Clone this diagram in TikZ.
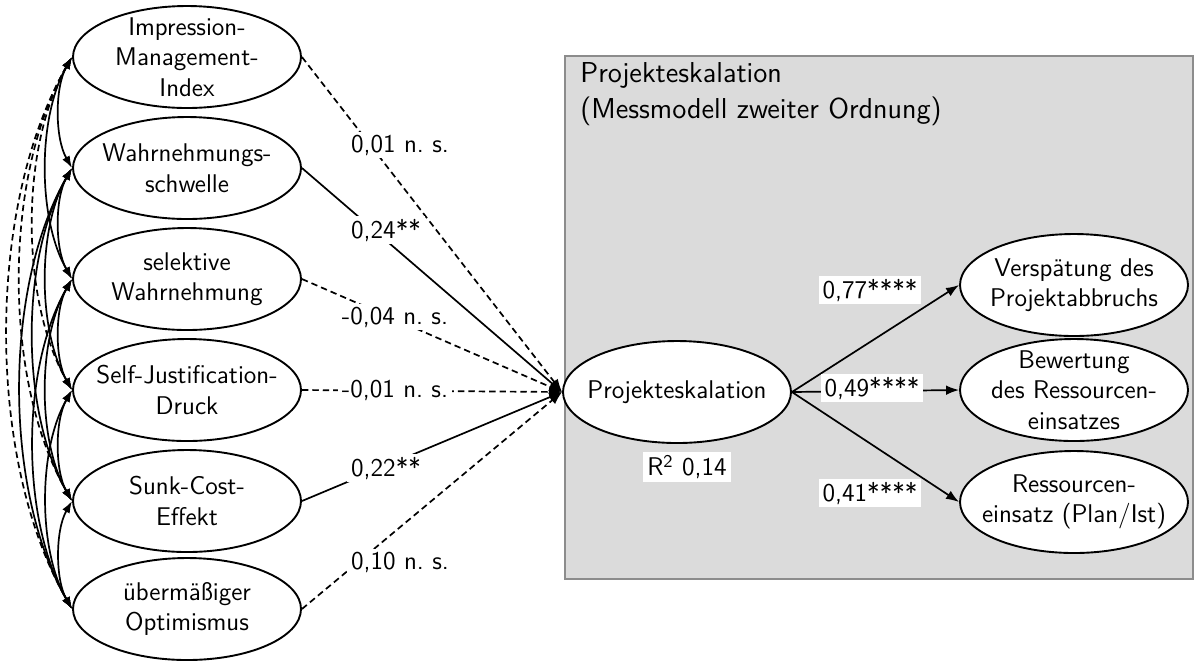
\documentclass[tikz,border=0pt]{standalone}
\usetikzlibrary{arrows.meta,shapes.geometric}
\begin{document}
\begin{tikzpicture}[x=0.5pt,y=-0.5pt,
  every node/.style={font=\sffamily\fontsize{12.8}{15.25}\selectfont},
  lat/.style={ellipse, draw, line width=0.95pt, fill=white, minimum width=114pt, minimum height=51pt, inner sep=-7pt, align=center},
  corr/.style={line width=0.85pt, {Latex[length=6pt,width=4.2pt]}-{Latex[length=6pt,width=4.2pt]}},
  ns/.style={dash pattern=on 3.2pt off 2pt},
  pth/.style={line width=0.85pt, -{Latex[length=6.5pt,width=4.8pt]}},
  lbl/.style={fill=white, inner xsep=2pt, inner ysep=1.5pt}
]
\useasboundingbox (0,0) rectangle (1194,661);
\node[draw=black!45, fill=black!14, line width=0.8pt, minimum width=314pt, minimum height=261.5pt, anchor=north west, inner sep=0] (box) at (564,55) {};
\node[anchor=north west, align=left, inner sep=0, font=\sffamily\fontsize{14.4}{18}\selectfont] (title) at (580,62) {Projekteskalation\\(Messmodell zweiter Ordnung)};

\node[lat] (n1) at (187,57) {Impression-\\Management-\\Index};
\node[lat] (n2) at (187,168) {Wahrnehmungs-\\schwelle};
\node[lat] (n3) at (187,279) {selektive\\Wahrnehmung};
\node[lat] (n4) at (187,390) {Self-Justification-\\Druck};
\node[lat] (n5) at (187,501) {Sunk-Cost-\\Effekt};
\node[lat] (n6) at (187,609) {übermäßiger\\Optimismus};

\node[lat] (c) at (677,392) {Projekteskalation};
\node[lat] (r1) at (1074,285) {Verspätung des\\Projektabbruchs};
\node[lat] (r2) at (1074,390) {Bewertung\\des Ressourcen-\\einsatzes};
\node[lat] (r3) at (1074,502) {Ressourcen-\\einsatz (Plan/Ist)};

\foreach \i/\j/\s in {1/2/solid,1/3/solid,1/4/ns,1/5/ns,1/6/ns,
  2/3/solid,2/4/solid,2/5/solid,2/6/solid,
  3/4/solid,3/5/solid,3/6/solid,
  4/5/solid,4/6/solid,5/6/solid}
  \draw[corr,\s] (n\i.west) to[out=-120,in=120,looseness=0.8] (n\j.west);

\draw[pth,ns] (n1.east) -- (c.west);
\draw[pth] (n2.east) -- (c.west);
\draw[pth,ns] (n3.east) -- (c.west);
\draw[pth,ns] (n4.east) -- (c.west);
\draw[pth] (n5.east) -- (c.west);
\draw[pth,ns] (n6.east) -- (c.west);

\node[lbl] (l1) at (400,145) {0,01 n.\ s.};
\node[lbl] (l2) at (386,230) {0,24**};
\node[lbl] (l3) at (395,317) {-0,04 n.\ s.};
\node[lbl] (l4) at (395,390) {-0,01 n.\ s.};
\node[lbl] (l5) at (386,468) {0,22**};
\node[lbl] (l6) at (400,562) {0,10 n.\ s.};

\draw[pth] (c.east) -- (r1.west);
\draw[pth] (c.east) -- (r2.west);
\draw[pth] (c.east) -- (r3.west);

\node[lbl] (k1) at (870,290) {0,77****};
\node[lbl] (k2) at (872,388) {0,49****};
\node[lbl] (k3) at (870,493) {0,41****};
\node[lbl] (rsq) at (687,467) {R\textsuperscript{2} 0,14};
\end{tikzpicture}
\end{document}
